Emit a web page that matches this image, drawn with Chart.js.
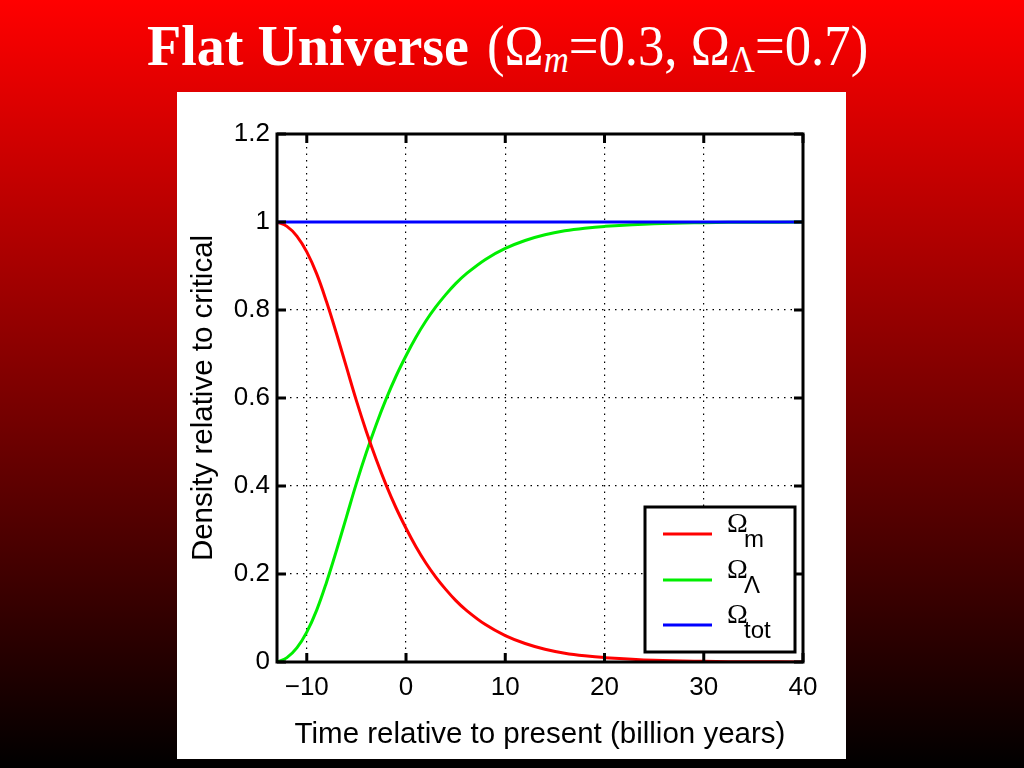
<!DOCTYPE html>
<html>
<head>
<meta charset="utf-8">
<script src="https://cdn.jsdelivr.net/npm/chart.js@4.4.1/dist/chart.umd.min.js"></script>
<style>
html, body { margin: 0; padding: 0; }
body {
    width: 1024px; height: 768px; position: relative; overflow: hidden;
    background: linear-gradient(#ff0000 0%, #000000 100%);
}
.title-part {
    position: absolute; top: 18px; color: #fff;
    font-family: "Liberation Serif", "Times New Roman", serif;
    font-size: 56px; line-height: 1; white-space: nowrap; transform-origin: 0 0;
}
#titleBold { left: 147px; font-weight: bold; }
#titleRest { left: 487px; }
.title-part sub { font-size: 0.66em; vertical-align: -0.2em; line-height: 0; }
#panel { position: absolute; left: 177px; top: 92px; width: 669px; height: 667px; background: #fff; }
</style>
</head>
<body>
<div id="titleBold" class="title-part">Flat Universe</div>
<div id="titleRest" class="title-part">(Ω<sub><i>m</i></sub>=0.3, Ω<sub>Λ</sub>=0.7)</div>
<div id="panel"><canvas id="grafico" width="669" height="667"></canvas></div>
<script>
// values
const years    = [-13, -12, -11, -10, -9, -8, -7, -6, -5, -4, -3, -2, -1, 0, 1, 2, 3, 4, 5, 6, 8, 10, 12, 14, 16, 18, 20, 25, 30, 35, 40];
const omegaM   = [1.0, 0.99, 0.968, 0.932, 0.882, 0.818, 0.746, 0.67, 0.594, 0.524, 0.46, 0.402, 0.35, 0.304, 0.262, 0.225, 0.193, 0.165, 0.14, 0.119, 0.085, 0.06, 0.042, 0.029, 0.02, 0.014, 0.01, 0.004, 0.0015, 0.0005, 0.0002];
const omegaL   = [0.0, 0.01, 0.032, 0.068, 0.118, 0.182, 0.254, 0.33, 0.406, 0.476, 0.54, 0.598, 0.65, 0.696, 0.738, 0.775, 0.807, 0.835, 0.86, 0.881, 0.915, 0.94, 0.958, 0.971, 0.98, 0.986, 0.99, 0.996, 0.9985, 0.9995, 0.9998];
const omegaTot = [1, 1, 1, 1, 1, 1, 1, 1, 1, 1, 1, 1, 1, 1, 1, 1, 1, 1, 1, 1, 1, 1, 1, 1, 1, 1, 1, 1, 1, 1, 1];

const xTicks = [-10, 0, 10, 20, 30, 40];
const yTicks = [0, 0.2, 0.4, 0.6, 0.8, 1, 1.2];
const seriesNames = ["Ωm", "ΩΛ", "Ωtot"];
const legendSubs = ["m", "Λ", "tot"];
const seriesColors = ["#ff0000", "#00ee00", "#0000ff"];

// fit the two halves of the title into the widths they have on the slide
function fitWidth(id, w) {
    const el = document.getElementById(id);
    el.style.transform = "scaleX(" + (w / el.scrollWidth) + ")";
}
fitWidth("titleBold", 322);
fitWidth("titleRest", 381);

const sansFont = "'Liberation Sans', Arial, Helvetica, sans-serif";

function toPoints(ys) {
    return years.map((x, i) => ({ x: x, y: ys[i] }));
}

const framePlugin = {
    id: "frame",
    afterDraw(chart) {
        const ctx = chart.ctx;
        const a = chart.chartArea;
        const sx = chart.scales.x;
        const sy = chart.scales.y;
        ctx.save();
        ctx.strokeStyle = "#000";
        ctx.lineWidth = 3;

        // legend box
        const lx = a.right - 158, ly = a.top + 373, lw = 150, lh = 145;
        ctx.fillStyle = "#fff";
        ctx.fillRect(lx, ly, lw, lh);
        ctx.strokeRect(lx, ly, lw, lh);
        const rows = [27, 73, 118];
        chart.data.datasets.forEach((ds, i) => {
            const y = ly + rows[i];
            ctx.strokeStyle = ds.borderColor;
            ctx.beginPath();
            ctx.moveTo(lx + 18, y);
            ctx.lineTo(lx + 67, y);
            ctx.stroke();
            ctx.fillStyle = "#000";
            ctx.textBaseline = "alphabetic";
            ctx.textAlign = "left";
            ctx.font = "28px 'Liberation Serif', 'Times New Roman', serif";
            ctx.fillText("Ω", lx + 82, y - 2);
            ctx.font = "24px " + sansFont;
            ctx.fillText(legendSubs[i], lx + 99, y + 13);
        });

        // ticks pointing inward on all four sides
        ctx.strokeStyle = "#000";
        ctx.lineWidth = 3;
        ctx.beginPath();
        xTicks.forEach(v => {
            const px = sx.getPixelForValue(v);
            ctx.moveTo(px, a.bottom); ctx.lineTo(px, a.bottom - 9);
            ctx.moveTo(px, a.top); ctx.lineTo(px, a.top + 9);
        });
        yTicks.forEach(v => {
            const py = sy.getPixelForValue(v);
            ctx.moveTo(a.left, py); ctx.lineTo(a.left + 9, py);
            ctx.moveTo(a.right, py); ctx.lineTo(a.right - 9, py);
        });
        ctx.stroke();

        ctx.strokeRect(a.left, a.top, a.right - a.left, a.bottom - a.top);
        ctx.restore();
    }
};

const ctx = document.getElementById("grafico").getContext("2d");
new Chart(ctx, {
    type: "line",
    data: {
        datasets: [
            { label: seriesNames[0], data: toPoints(omegaM), borderColor: seriesColors[0], order: 1 },
            { label: seriesNames[1], data: toPoints(omegaL), borderColor: seriesColors[1], order: 1 },
            { label: seriesNames[2], data: toPoints(omegaTot), borderColor: seriesColors[2], order: 0 }
        ]
    },
    options: {
        responsive: false,
        animation: false,
        layout: { padding: { top: 42, right: 43, left: 0, bottom: 0 } },
        elements: {
            point: { radius: 0 },
            line: { borderWidth: 3, tension: 0.4, fill: false }
        },
        plugins: { legend: { display: false }, tooltip: { enabled: false } },
        scales: {
            x: {
                type: "linear",
                min: -13,
                max: 40,
                afterBuildTicks: s => { s.ticks = xTicks.map(v => ({ value: v })); },
                afterFit: s => { s.height = 97; },
                ticks: {
                    color: "#000",
                    font: { family: sansFont, size: 26 },
                    padding: 10,
                    maxRotation: 0,
                    callback: v => (v < 0 ? "\u2212" + Math.abs(v) : String(v))
                },
                grid: { color: "#000", lineWidth: 1.2, drawTicks: false },
                border: { display: false, dash: [1.5, 5] },
                title: {
                    display: true,
                    text: "Time relative to present (billion years)",
                    color: "#000",
                    font: { family: sansFont, size: 29.5 },
                    padding: { top: 0, bottom: 6 }
                }
            },
            y: {
                type: "linear",
                min: 0,
                max: 1.2,
                afterBuildTicks: s => { s.ticks = yTicks.map(v => ({ value: v })); },
                afterFit: s => { s.width = 100; },
                ticks: {
                    color: "#000",
                    font: { family: sansFont, size: 26 },
                    padding: 7,
                    callback: v => String(v)
                },
                grid: { color: "#000", lineWidth: 1.2, drawTicks: false },
                border: { display: false, dash: [1.5, 5] },
                title: {
                    display: true,
                    text: "Density relative to critical",
                    color: "#000",
                    font: { family: sansFont, size: 29.5 },
                    padding: { top: 9, bottom: 0 }
                }
            }
        }
    },
    plugins: [framePlugin]
});
</script>
</body>
</html>
